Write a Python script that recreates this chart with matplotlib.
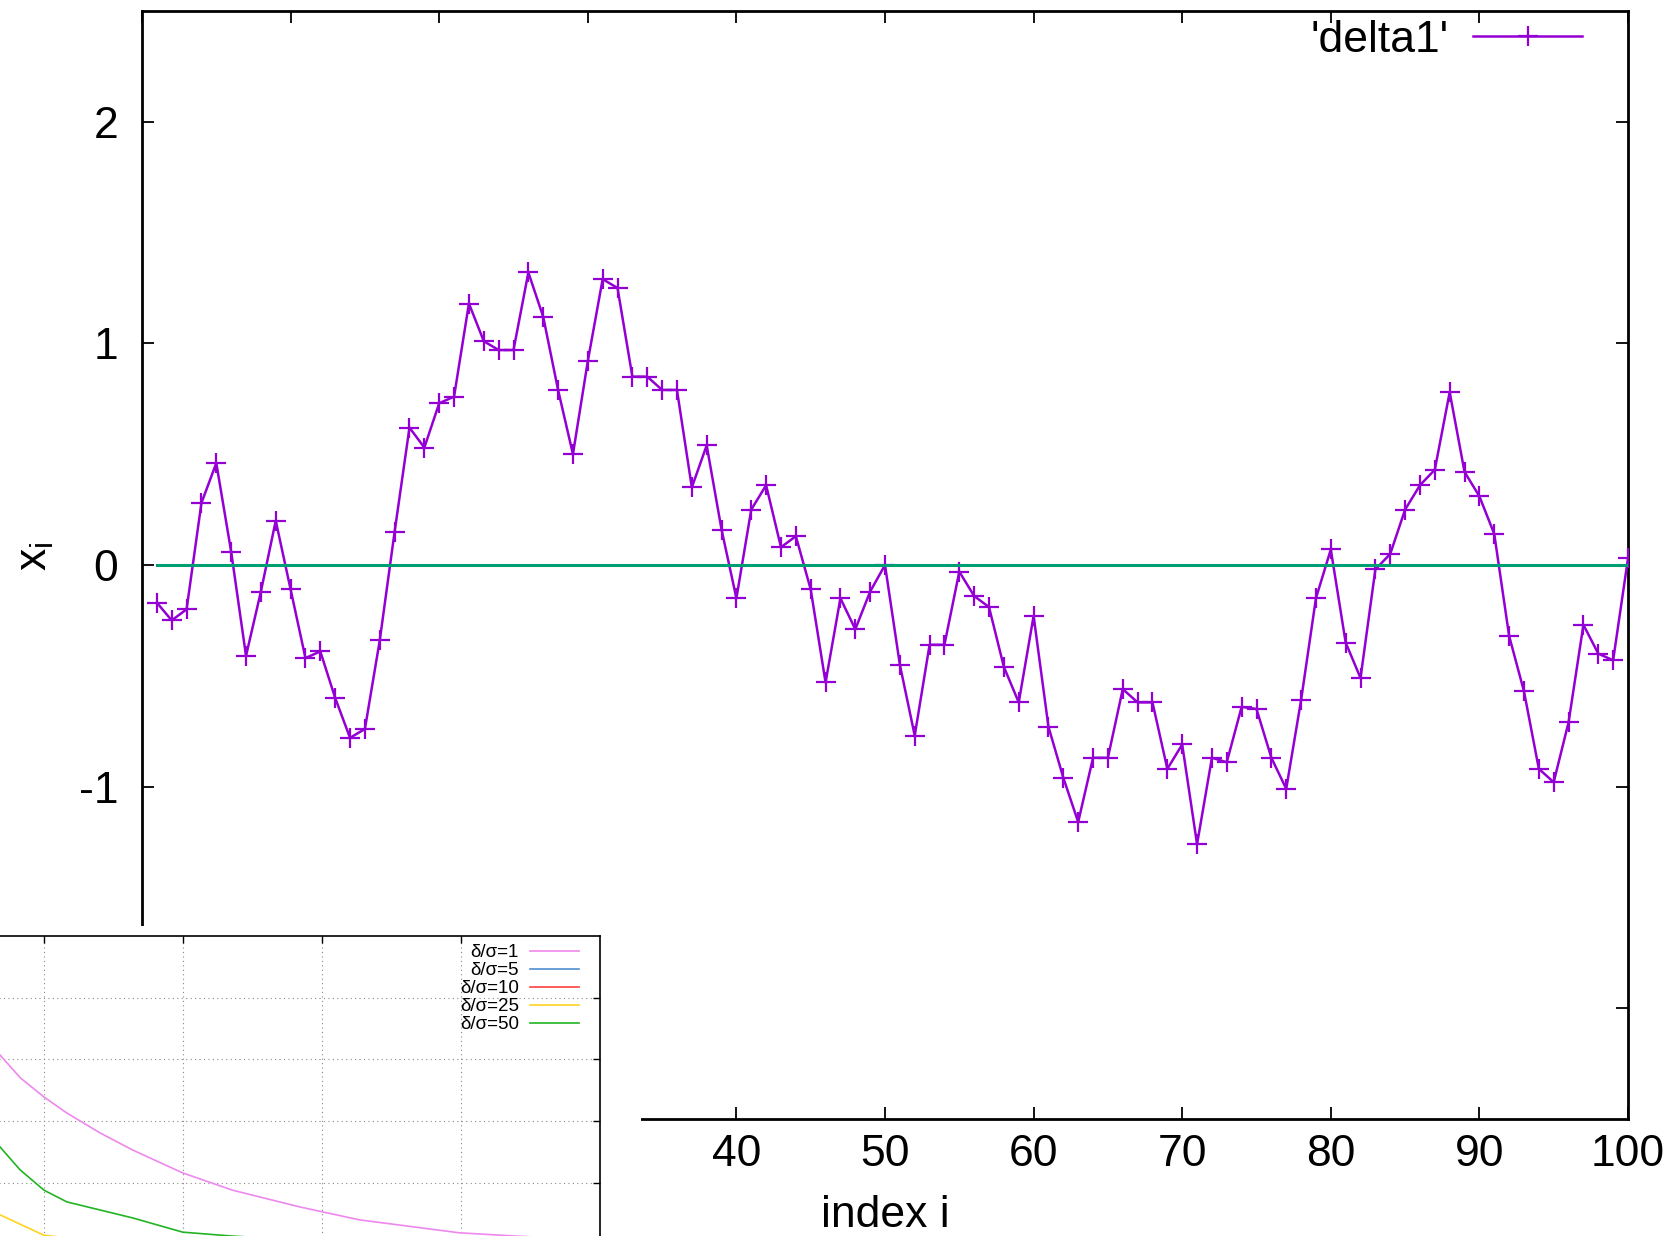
import numpy as np
import matplotlib.pyplot as plt
from matplotlib.patches import Rectangle

plt.rcParams['font.family'] = ['Liberation Sans', 'DejaVu Sans']
plt.rcParams['axes.unicode_minus'] = False
plt.rcParams['mathtext.default'] = 'regular'

# main series x_i, i = 1..100
index = np.arange(1, 101)
delta1 = [-0.17, -0.25, -0.20, 0.28, 0.46, 0.06, -0.41, -0.12, 0.20, -0.11,
          -0.42, -0.39, -0.60, -0.78, -0.74, -0.34, 0.15, 0.62, 0.53, 0.73,
          0.76, 1.18, 1.01, 0.97, 0.97, 1.32, 1.12, 0.79, 0.50, 0.92,
          1.29, 1.25, 0.85, 0.85, 0.79, 0.79, 0.35, 0.54, 0.16, -0.15,
          0.25, 0.36, 0.08, 0.13, -0.11, -0.53, -0.15, -0.29, -0.12, 0.0,
          -0.45, -0.77, -0.36, -0.36, -0.03, -0.14, -0.19, -0.46, -0.62, -0.23,
          -0.73, -0.96, -1.16, -0.87, -0.87, -0.56, -0.62, -0.62, -0.92, -0.81,
          -1.26, -0.87, -0.89, -0.64, -0.65, -0.87, -1.01, -0.61, -0.15, 0.07,
          -0.35, -0.51, -0.02, 0.05, 0.25, 0.36, 0.43, 0.78, 0.42, 0.31,
          0.14, -0.32, -0.57, -0.92, -0.98, -0.71, -0.27, -0.40, -0.43, 0.03]
zero_x = [1, 100]
zero_y = [0, 0]

# pasted panel (bottom left), only partly visible
r1_x = [-0.45, -0.316, -0.17, 0.0, 0.165, 0.402, 0.639, 0.998, 1.357, 1.838, 2.268, 2.986, 3.367, 3.977]
r1_y = [3.35, 3.07, 2.70, 2.39, 2.13, 1.81, 1.53, 1.16, 0.88, 0.61, 0.40, 0.19, 0.14, 0.07]
r50_x = [-0.45, -0.316, -0.172, 0.0, 0.165, 0.402, 0.639, 0.998, 1.335, 1.84]
r50_y = [1.95, 1.58, 1.21, 0.88, 0.69, 0.56, 0.43, 0.20, 0.14, 0.07]
r25_x = [-0.45, -0.316, 0.0, 0.04, 0.4]
r25_y = [0.70, 0.48, 0.15, 0.14, 0.04]

W, H = 1676, 1236
fig = plt.figure(figsize=(W / 100, H / 100), dpi=100)

ax = fig.add_axes([142 / W, 117 / H, 1486 / W, 1108 / H])
ax.plot(index, delta1, color='#9400d3', lw=1.8, marker='+', ms=14, mew=1.6,
        label="'delta1'", zorder=3)
ax.plot(zero_x, zero_y, color='#009e73', lw=2.2, zorder=4)
ax.set_xlim(0, 100)
ax.set_ylim(-2.5, 2.5)
ax.set_xticks(np.arange(0, 101, 10))
ax.set_yticks([-2, -1, 0, 1, 2])
ax.tick_params(direction='in', top=True, right=True, length=8.5, width=1.3,
               labelsize=32)
ax.tick_params(axis='y', pad=17)
ax.tick_params(axis='x', pad=11)
for s in ax.spines.values():
    s.set_linewidth(2)
ax.set_xlabel('index i', fontsize=32)
ax.set_ylabel('$x_i$', fontsize=32)
ax.xaxis.set_label_coords(0.5, -0.069)
ax.yaxis.set_label_coords(-0.058, 0.508)
ax.legend(loc='center right', bbox_to_anchor=(1582 / W, 1 - 40 / H),
          bbox_transform=fig.transFigure, frameon=False, markerfirst=False,
          fontsize=32, handlelength=2.45, handletextpad=0.55, numpoints=1,
          borderpad=0, borderaxespad=0)

# white area of the pasted picture
fig.add_artist(Rectangle((0, 0), 641 / W, 310 / H, transform=fig.transFigure,
                         facecolor='white', edgecolor='none', zorder=9))

ins = fig.add_axes([-95 / W, (H - 1244.5) / H, 695 / W, 308.5 / H])
ins.set_zorder(10)
ins.set_facecolor('white')
ins.plot(r1_x, r1_y, color='#ee88ee', lw=1.2, label='δ/σ=1')
ins.plot([], [], color='#4f8fcf', lw=1.2, label='δ/σ=5')
ins.plot([], [], color='#ff4040', lw=1.2, label='δ/σ=10')
ins.plot(r25_x, r25_y, color='#ffd320', lw=1.2, label='δ/σ=25')
ins.plot(r50_x, r50_y, color='#22b422', lw=1.2, label='δ/σ=50')
ins.set_xlim(-1, 4)
ins.set_ylim(0, 5)
ins.set_xticks([0, 1, 2, 3])
ins.set_yticks([1, 2, 3, 4])
ins.grid(True, linestyle=(0, (1, 3)), color='#888888', lw=0.8)
ins.tick_params(direction='in', top=True, right=True, bottom=False, left=False,
                labelleft=False, labelbottom=False, length=5, width=1)
for s in ins.spines.values():
    s.set_linewidth(1.2)
ins.legend(loc='upper right', bbox_to_anchor=(579 / W, 1 - 944 / H),
           bbox_transform=fig.transFigure, frameon=False, markerfirst=False,
           fontsize=13.5, handlelength=2.6, handletextpad=0.6, labelspacing=0.05,
           borderpad=0, borderaxespad=0)

fig.savefig('out.png', dpi=100)
